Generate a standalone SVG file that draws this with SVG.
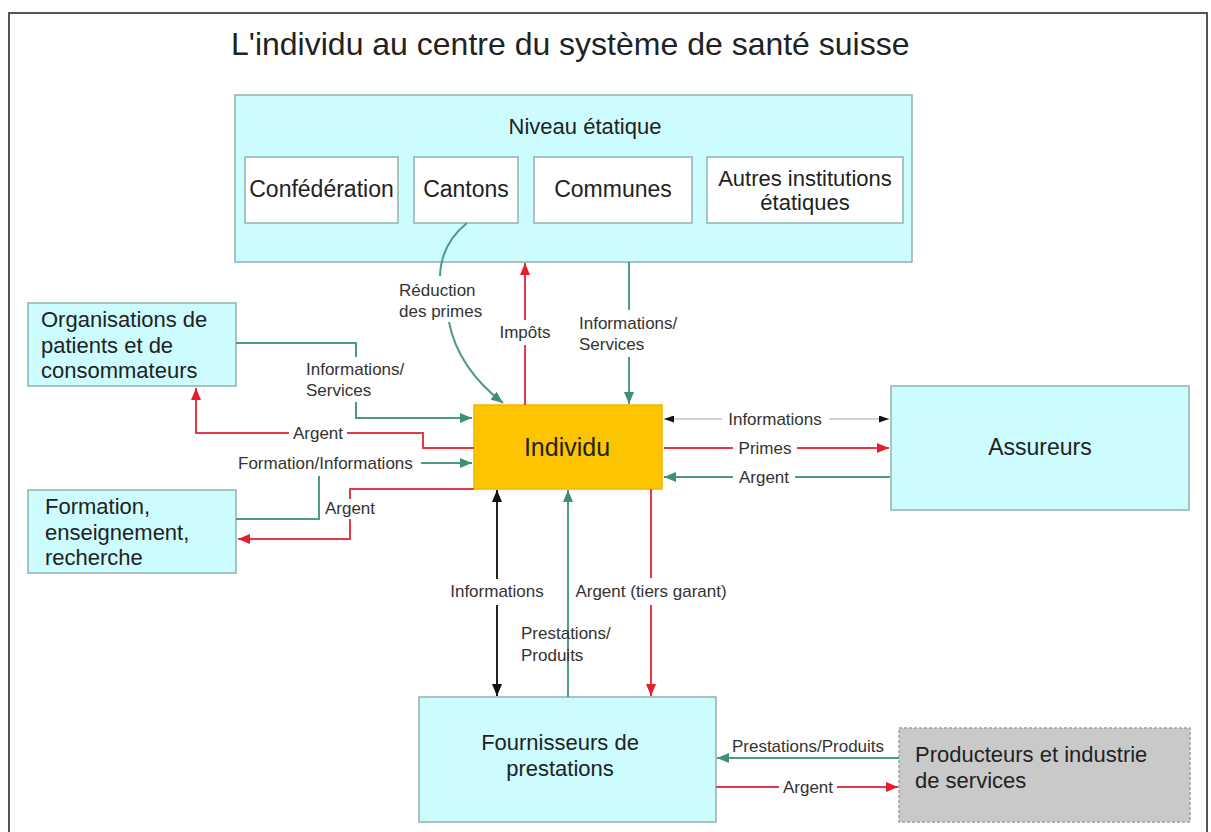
<svg xmlns="http://www.w3.org/2000/svg" width="1211" height="832" viewBox="0 0 1211 832">
<style>
text { font-family: "Liberation Sans", Arial, sans-serif; fill: #222; }
.title { font-size: 32px; }
.big { font-size: 23px; }
.mid { font-size: 22px; }
.lbl { font-size: 17px; fill: #333; }
.c { text-anchor: middle; }
.cyan { fill: #ccfcfe; stroke: #8fb1b1; stroke-width: 1.5; }
.inner { fill: #ffffff; stroke: #8fb1b1; stroke-width: 1.5; }
.red { fill: none; stroke: #e23a46; stroke-width: 2; }
.green { fill: none; stroke: #4d9b80; stroke-width: 2; }
.black { fill: none; stroke: #222; stroke-width: 2; }
.gray { fill: none; stroke: #c4c4c4; stroke-width: 1.5; }
</style>
<defs>
<marker id="mr" viewBox="0 0 12 10" markerWidth="12" markerHeight="10" refX="12" refY="5" orient="auto-start-reverse" markerUnits="userSpaceOnUse"><path d="M0,0 L12,5 L0,10 z" fill="#e81c2a"/></marker>
<marker id="mg" viewBox="0 0 12 10" markerWidth="12" markerHeight="10" refX="12" refY="5" orient="auto-start-reverse" markerUnits="userSpaceOnUse"><path d="M0,0 L12,5 L0,10 z" fill="#3d9170"/></marker>
<marker id="mb" viewBox="0 0 12 10" markerWidth="12" markerHeight="10" refX="12" refY="5" orient="auto-start-reverse" markerUnits="userSpaceOnUse"><path d="M0,0 L12,5 L0,10 z" fill="#111"/></marker>
<marker id="mbs" viewBox="0 0 10 7" markerWidth="10" markerHeight="7" refX="10" refY="3.5" orient="auto-start-reverse" markerUnits="userSpaceOnUse"><path d="M0,0 L10,3.5 L0,7 z" fill="#111"/></marker>
</defs>
<rect x="0" y="0" width="1211" height="832" fill="#ffffff"/>
<rect x="9" y="13" width="1198" height="840" fill="none" stroke="#555" stroke-width="2"/>
<text class="title" x="231" y="55">L'individu au centre du système de santé suisse</text>

<g id="niveau">
<rect class="cyan" x="235" y="95" width="677" height="167"/>
<text class="mid" x="585" y="134" text-anchor="middle">Niveau étatique</text>
</g>
<g id="confederation">
<rect class="inner" x="245" y="157" width="153" height="66"/>
<text class="big c" x="321.5" y="197">Confédération</text>
</g>
<g id="cantons">
<rect class="inner" x="414" y="157" width="104" height="66"/>
<text class="big c" x="466" y="197">Cantons</text>
</g>
<g id="communes">
<rect class="inner" x="534" y="157" width="158" height="66"/>
<text class="big c" x="613" y="197">Communes</text>
</g>
<g id="autres">
<rect class="inner" x="707" y="157" width="196" height="66"/>
<text class="mid c" x="805" y="186">Autres institutions</text>
<text class="mid c" x="805" y="210">étatiques</text>
</g>
<g id="organisations">
<rect class="cyan" x="28" y="303" width="208" height="83"/>
<text class="mid" x="41" y="327">Organisations de</text>
<text class="mid" x="41" y="352.5">patients et de</text>
<text class="mid" x="41" y="378">consommateurs</text>
</g>
<g id="formation">
<rect class="cyan" x="28" y="490" width="208" height="83"/>
<text class="mid" x="45" y="514">Formation,</text>
<text class="mid" x="45" y="539.5">enseignement,</text>
<text class="mid" x="45" y="565">recherche</text>
</g>
<g id="individu">
<rect x="474" y="405" width="188" height="84" fill="#fdc400" stroke="#f2b400" stroke-width="1.5"/>
<text x="567" y="456" text-anchor="middle" style="font-size:25px">Individu</text>
</g>
<g id="assureurs">
<rect class="cyan" x="891" y="386" width="298" height="124"/>
<text class="big c" x="1040" y="455">Assureurs</text>
</g>
<g id="fournisseurs">
<rect class="cyan" x="419" y="697" width="297" height="125"/>
<text class="mid c" x="560" y="750">Fournisseurs de</text>
<text class="mid c" x="560" y="776">prestations</text>
</g>
<g id="producteurs">
<rect x="899" y="728" width="291" height="94" fill="#c9c9c9" stroke="#a0a0a0" stroke-width="1.5" stroke-dasharray="3,2"/>
<text class="mid" x="915" y="762">Producteurs et industrie</text>
<text class="mid" x="915" y="788">de services</text>
</g>

<g id="connectors">
<path class="green" d="M467,223 Q441,244 440,276"/>
<path class="green" d="M449,322 Q458,368 503,403" marker-end="url(#mg)"/>
<text class="lbl" x="399" y="296">Réduction</text>
<text class="lbl" x="399" y="317">des primes</text>
<path class="red" d="M525,405 V345"/>
<path class="red" d="M525,320 V263" marker-end="url(#mr)"/>
<text class="lbl c" x="525" y="338">Impôts</text>
<path class="green" d="M629,262 V310"/>
<path class="green" d="M629,357 V404" marker-end="url(#mg)"/>
<text class="lbl" x="579" y="329">Informations/</text>
<text class="lbl" x="579" y="350">Services</text>
<path class="green" d="M236,343 H356 V357"/>
<path class="green" d="M356,402 V418 H472" marker-end="url(#mg)"/>
<text class="lbl" x="306" y="375">Informations/</text>
<text class="lbl" x="306" y="396">Services</text>
<path class="red" d="M474,448 H423 V433 H347"/>
<path class="red" d="M289,433 H196 V388" marker-end="url(#mr)"/>
<text class="lbl c" x="318" y="439">Argent</text>
<path class="green" d="M236,519 H319 V476"/>
<path class="green" d="M421,463 H472" marker-end="url(#mg)"/>
<text class="lbl" x="238" y="469">Formation/Informations</text>
<path class="red" d="M474,489 H350 V499"/>
<path class="red" d="M350,519 V539 H238" marker-end="url(#mr)"/>
<text class="lbl c" x="350" y="514">Argent</text>
<path class="gray" d="M722,419 H664" marker-end="url(#mbs)"/>
<path class="gray" d="M829,419 H889" marker-end="url(#mbs)"/>
<text class="lbl c" x="775" y="425">Informations</text>
<path class="red" d="M664,448 H733"/>
<path class="red" d="M797,448 H889" marker-end="url(#mr)"/>
<text class="lbl c" x="765" y="454">Primes</text>
<path class="green" d="M890,477 H795"/>
<path class="green" d="M733,477 H664" marker-end="url(#mg)"/>
<text class="lbl c" x="764" y="483">Argent</text>
<path class="black" d="M497,579 V490" marker-end="url(#mb)"/>
<path class="black" d="M497,605 V696" marker-end="url(#mb)"/>
<text class="lbl c" x="497" y="597">Informations</text>
<path class="green" d="M568,697 V490" marker-end="url(#mg)"/>
<text class="lbl" x="521" y="639">Prestations/</text>
<text class="lbl" x="521" y="661">Produits</text>
<path class="red" d="M651,489 V578"/>
<path class="red" d="M651,605 V696" marker-end="url(#mr)"/>
<text class="lbl c" x="651" y="597">Argent (tiers garant)</text>
<path class="green" d="M899,758 H717" marker-end="url(#mg)"/>
<text class="lbl c" x="808" y="752">Prestations/Produits</text>
<path class="red" d="M716,787 H779"/>
<path class="red" d="M837,787 H898" marker-end="url(#mr)"/>
<text class="lbl c" x="808" y="793">Argent</text>
</g>
</svg>
